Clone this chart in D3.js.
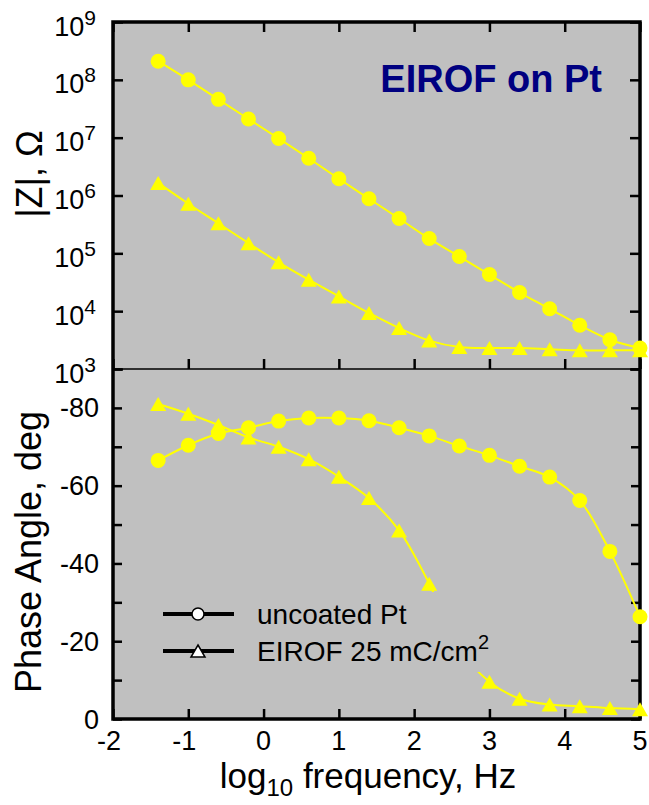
<!DOCTYPE html>
<html>
<head>
<meta charset="utf-8">
<script src="https://cdnjs.cloudflare.com/ajax/libs/d3/7.8.5/d3.min.js"></script>
<style>
  body { margin: 0; background: #fff; }
  text { font-family: "Liberation Sans", Arial, sans-serif; }
</style>
</head>
<body>
<div id="chart"></div>
<script>
// data
var logFreq = [-1.4, -1.0, -0.6, -0.2, 0.2, 0.6, 1.0, 1.4, 1.8, 2.2, 2.6, 3.0, 3.4, 3.8, 4.2, 4.6, 5.0];
var zUncoated = [2.1e8, 1.0e8, 4.6e7, 2.1e7, 9.7e6, 4.4e6, 1.95e6, 8.8e5, 4.0e5, 1.8e5, 8.8e4, 4.3e4, 2.1e4, 1.1e4, 5.7e3, 3.2e3, 2.3e3];
var zEirof = [1.65e6, 7.2e5, 3.3e5, 1.5e5, 7.0e4, 3.5e4, 1.8e4, 9.3e3, 5.1e3, 3.1e3, 2.4e3, 2.3e3, 2.3e3, 2.2e3, 2.1e3, 2.1e3, 2.1e3];
var phaseUncoated = [-66.5, -70.4, -73.4, -74.9, -76.6, -77.4, -77.4, -76.7, -74.9, -72.8, -70.2, -67.8, -65.0, -62.2, -56.2, -43.1, -26.3];
var phaseEirof = [-81.0, -78.5, -75.6, -72.4, -70.0, -66.8, -62.3, -56.8, -48.5, -34.8, -18.0, -9.6, -5.2, -3.7, -3.3, -2.8, -2.5];

var xTicks = [-2, -1, 0, 1, 2, 3, 4, 5];
var zTicks = [1e3, 1e4, 1e5, 1e6, 1e7, 1e8, 1e9];
var phaseTicks = [0, -10, -20, -30, -40, -50, -60, -70, -80, -90];
var phaseLabels = [0, -20, -40, -60, -80];
var legendNames = ["uncoated Pt", "EIROF 25 mC/cm"];

var svgWidth = 649;
var svgHeight = 805;

// plot frame
var left = 113, right = 640;
var topY = 22, midY = 369, bottomY = 719;

var svg = d3.select("#chart")
    .append("svg")
    .attr("width", svgWidth)
    .attr("height", svgHeight);

// scales
var xScale = d3.scaleLinear().domain([-2, 5]).range([left, right]);
var zScale = d3.scaleLog().domain([1e3, 1e9]).range([midY, topY]);
var pScale = d3.scaleLinear().domain([0, -90]).range([bottomY, midY]);

// gray background
svg.append("rect")
    .attr("x", left).attr("y", topY)
    .attr("width", right - left).attr("height", bottomY - topY)
    .attr("fill", "#c0c0c0");

// ticks (inside) -- top panel
var tickStyle = function(g) {
    g.select(".domain").remove();
    g.selectAll(".tick line").attr("stroke", "#000").attr("stroke-width", 2.5);
    g.selectAll(".tick text").remove();
};

svg.append("g").attr("transform", `translate(${left},0)`)
    .call(d3.axisLeft(zScale).tickValues(zTicks).tickSize(-10)).call(tickStyle);
svg.append("g").attr("transform", `translate(${right},0)`)
    .call(d3.axisRight(zScale).tickValues(zTicks).tickSize(-10)).call(tickStyle);
svg.append("g").attr("transform", `translate(0,${topY})`)
    .call(d3.axisTop(xScale).tickValues(xTicks).tickSize(-10)).call(tickStyle);
svg.append("g").attr("transform", `translate(0,${midY})`)
    .call(d3.axisBottom(xScale).tickValues(xTicks).tickSize(-10)).call(tickStyle);

// ticks -- bottom panel
svg.append("g").attr("transform", `translate(${left},0)`)
    .call(d3.axisLeft(pScale).tickValues(phaseTicks).tickSize(-9)).call(tickStyle);
svg.append("g").attr("transform", `translate(${right},0)`)
    .call(d3.axisRight(pScale).tickValues(phaseTicks).tickSize(-9)).call(tickStyle);
svg.append("g").attr("transform", `translate(0,${bottomY})`)
    .call(d3.axisBottom(xScale).tickValues(xTicks).tickSize(-10)).call(tickStyle);

// frame lines
svg.append("path")
    .attr("d", `M${left},${topY}H${right}V${bottomY}H${left}Z`)
    .attr("fill", "none").attr("stroke", "#000").attr("stroke-width", 3.5);
svg.append("line")
    .attr("x1", left).attr("x2", right).attr("y1", midY).attr("y2", midY)
    .attr("stroke", "#000").attr("stroke-width", 1.5);

// tick labels
var zLab = svg.append("g").attr("font-size", 27).attr("text-anchor", "end");
zTicks.forEach(function(v) {
    var t = zLab.append("text")
        .attr("x", 96)
        .attr("y", zScale(v) + 13.5);
    t.append("tspan").text("10");
    t.append("tspan").attr("font-size", 21).attr("dy", -11).text(Math.round(Math.log10(v)));
});

svg.append("g").selectAll("text").data(phaseLabels).enter().append("text")
    .attr("x", 99)
    .attr("y", d => pScale(d) + 9.5)
    .attr("text-anchor", "end")
    .attr("font-size", 27)
    .text(d => String(d));

svg.append("g").selectAll("text").data(xTicks).enter().append("text")
    .attr("x", d => xScale(d) - (d < 0 ? 4 : 0))
    .attr("y", 750)
    .attr("text-anchor", "middle")
    .attr("font-size", 27)
    .text(d => String(d));

// curves
var zLine = d3.line().x((d, i) => xScale(logFreq[i])).y(d => zScale(d)).curve(d3.curveCatmullRom);
var pLine = d3.line().x((d, i) => xScale(logFreq[i])).y(d => pScale(d)).curve(d3.curveCatmullRom);

[zUncoated, zEirof].forEach(function(s) {
    svg.append("path").attr("d", zLine(s))
        .attr("fill", "none").attr("stroke", "#ffff00").attr("stroke-width", 2);
});
[phaseUncoated, phaseEirof].forEach(function(s) {
    svg.append("path").attr("d", pLine(s))
        .attr("fill", "none").attr("stroke", "#ffff00").attr("stroke-width", 2);
});

// triangle centred on its bounding box
function tri(x, y, w, h) {
    return `M${x},${y - h / 2}L${x + w / 2},${y + h / 2}L${x - w / 2},${y + h / 2}Z`;
}

// markers
svg.append("g").selectAll("circle").data(zUncoated).enter().append("circle")
    .attr("cx", (d, i) => xScale(logFreq[i])).attr("cy", d => zScale(d))
    .attr("r", 7.5).attr("fill", "#ffff00");
svg.append("g").selectAll("circle").data(phaseUncoated).enter().append("circle")
    .attr("cx", (d, i) => xScale(logFreq[i])).attr("cy", d => pScale(d))
    .attr("r", 7.5).attr("fill", "#ffff00");
svg.append("g").selectAll("path").data(zEirof).enter().append("path")
    .attr("d", (d, i) => tri(xScale(logFreq[i]), zScale(d), 16, 14))
    .attr("fill", "#ffff00");
svg.append("g").selectAll("path").data(phaseEirof).enter().append("path")
    .attr("d", (d, i) => tri(xScale(logFreq[i]), pScale(d), 16, 14))
    .attr("fill", "#ffff00");

// legend (opaque box covers the curve behind it)
var legend = svg.append("g");
legend.append("rect")
    .attr("x", 150).attr("y", 592).attr("width", 355).attr("height", 80)
    .attr("fill", "#c0c0c0");
var rowY = [614, 651];
rowY.forEach(function(y, i) {
    legend.append("line")
        .attr("x1", 163).attr("x2", 234).attr("y1", y).attr("y2", y)
        .attr("stroke", "#000").attr("stroke-width", 4);
    if (i === 0) {
        legend.append("circle").attr("cx", 198).attr("cy", y).attr("r", 6)
            .attr("fill", "#fff").attr("stroke", "#000").attr("stroke-width", 1.5);
    } else {
        legend.append("path").attr("d", tri(198, y, 14, 12))
            .attr("fill", "#fff").attr("stroke", "#000").attr("stroke-width", 1.5);
    }
    var t = legend.append("text")
        .attr("x", 257).attr("y", y + 9.5)
        .attr("font-size", 28)
        .text(legendNames[i]);
    if (i === 1) t.append("tspan").attr("font-size", 20).attr("dy", -12).text("2");
});

// annotation
svg.append("text")
    .attr("x", 602).attr("y", 92)
    .attr("text-anchor", "end")
    .attr("font-size", 38)
    .attr("font-weight", "bold")
    .attr("fill", "#000080")
    .text("EIROF on Pt");

// axis titles
svg.append("text")
    .attr("transform", `translate(42,174) rotate(-90)`)
    .attr("text-anchor", "middle")
    .attr("font-size", 36)
    .text("|Z|, \u03A9");

svg.append("text")
    .attr("transform", `translate(41,552) rotate(-90)`)
    .attr("text-anchor", "middle")
    .attr("font-size", 36)
    .text("Phase Angle, deg");

var xt = svg.append("text")
    .attr("x", 368).attr("y", 788)
    .attr("text-anchor", "middle")
    .attr("font-size", 35);
xt.append("tspan").text("log");
xt.append("tspan").attr("font-size", 24).attr("dy", 8).text("10");
xt.append("tspan").attr("dy", -8).text(" frequency, Hz");
</script>
</body>
</html>
